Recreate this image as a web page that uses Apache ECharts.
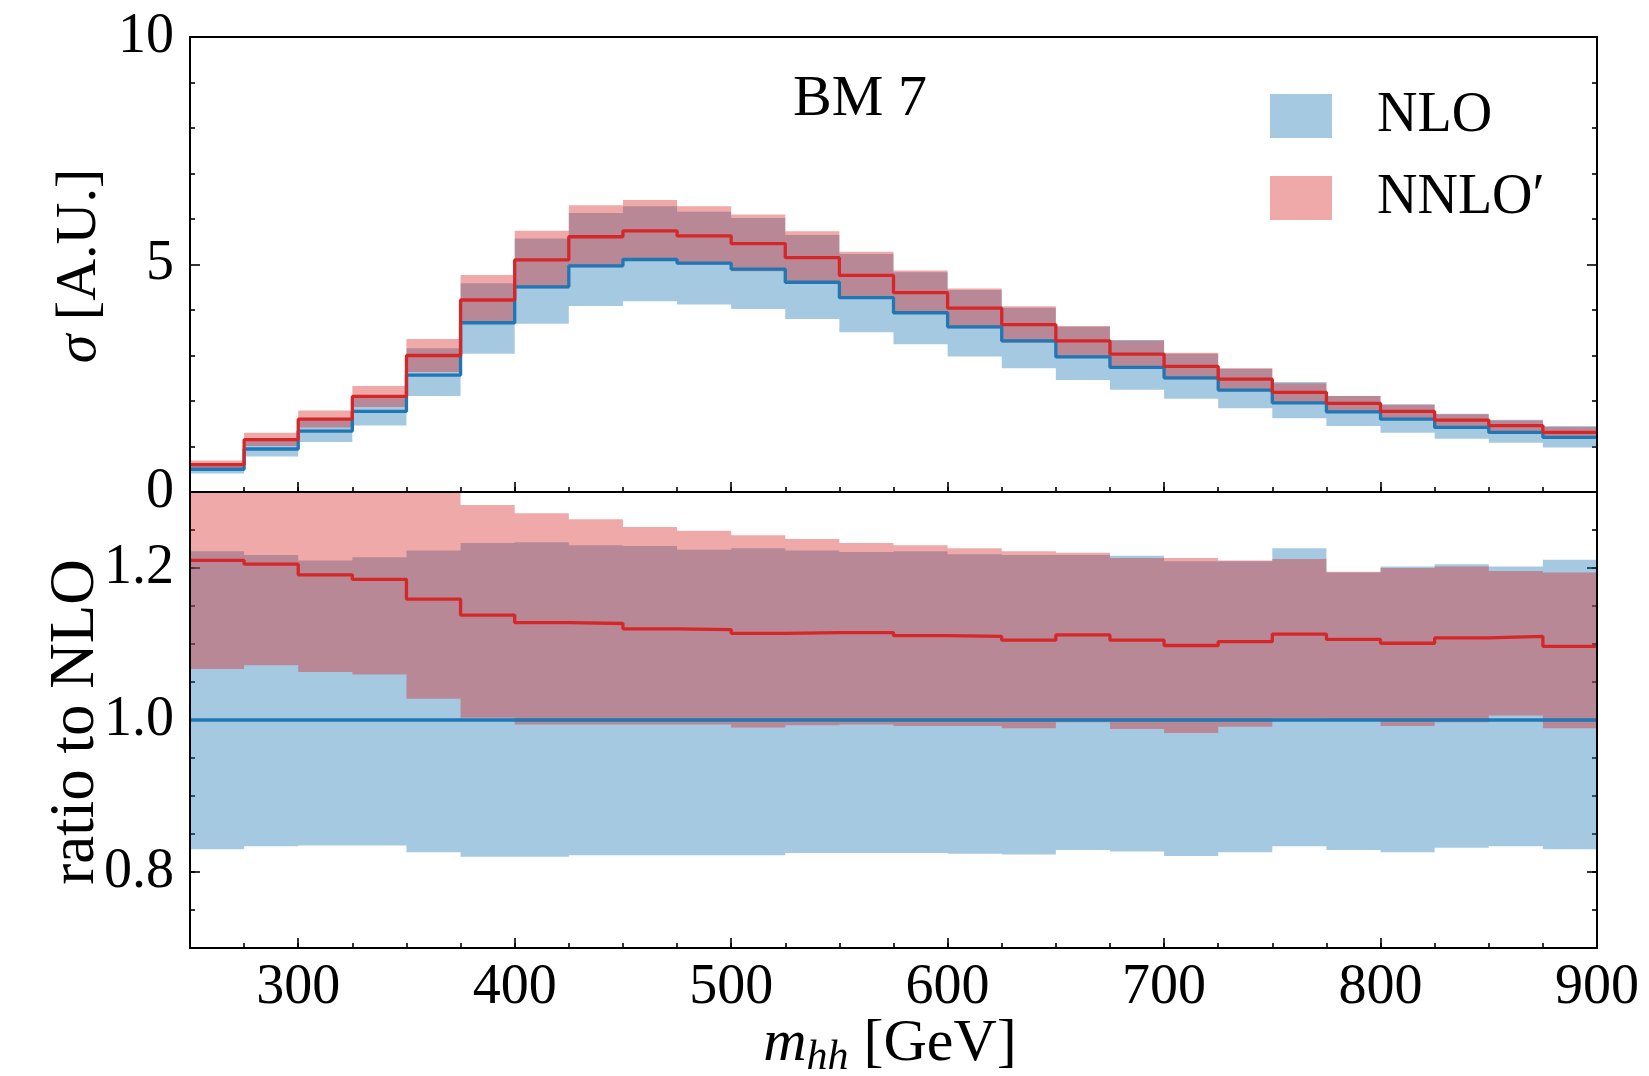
<!DOCTYPE html>
<html>
<head>
<meta charset="utf-8">
<title>BM 7</title>
<script src="https://cdn.jsdelivr.net/npm/echarts@6/dist/echarts.min.js"></script>
<style>
    html, body { margin: 0; padding: 0; background: #fff; }
    #chart { width: 1649px; height: 1076px; }
</style>
</head>
<body>
<div id="chart"></div>
<script>
// bin edges in m_hh [GeV]
var binEdges = [250, 275, 300, 325, 350, 375, 400, 425, 450, 475, 500, 525, 550, 575, 600,
    625, 650, 675, 700, 725, 750, 775, 800, 825, 850, 875, 900];

// upper panel: sigma [A.U.]
var nloCentral = [0.50, 0.945, 1.34, 1.77, 2.57, 3.72, 4.51, 4.97, 5.11, 5.03, 4.90, 4.61, 4.27, 3.94, 3.63, 3.32, 2.97, 2.74, 2.51, 2.24, 1.96, 1.76, 1.60, 1.42, 1.31, 1.20];
var nloLow = [0.405, 0.78, 1.10, 1.46, 2.11, 3.04, 3.70, 4.09, 4.19, 4.12, 4.02, 3.80, 3.51, 3.25, 2.98, 2.72, 2.46, 2.25, 2.05, 1.84, 1.62, 1.45, 1.30, 1.17, 1.08, 0.98];
var nloHigh = [0.61, 1.15, 1.61, 2.13, 3.16, 4.59, 5.57, 6.13, 6.28, 6.16, 6.02, 5.65, 5.23, 4.83, 4.44, 4.05, 3.63, 3.34, 3.04, 2.71, 2.42, 2.11, 1.93, 1.72, 1.59, 1.45];
var nnloCentral = [0.60, 1.15, 1.60, 2.10, 3.00, 4.22, 5.10, 5.61, 5.74, 5.63, 5.46, 5.15, 4.76, 4.38, 4.04, 3.68, 3.32, 3.03, 2.76, 2.48, 2.19, 1.95, 1.77, 1.58, 1.46, 1.31];
var nnloLow = [0.53, 1.01, 1.42, 1.87, 2.64, 3.73, 4.48, 4.94, 5.08, 5.00, 4.85, 4.58, 4.24, 3.91, 3.60, 3.28, 2.96, 2.71, 2.47, 2.22, 1.96, 1.76, 1.59, 1.42, 1.32, 1.19];
var nnloHigh = [0.69, 1.30, 1.79, 2.33, 3.36, 4.77, 5.74, 6.30, 6.42, 6.28, 6.10, 5.73, 5.28, 4.87, 4.47, 4.08, 3.65, 3.33, 3.06, 2.72, 2.39, 2.11, 1.92, 1.71, 1.57, 1.43];

// lower panel: ratio to NLO
var ratioNlo = [1.0, 1.0, 1.0, 1.0, 1.0, 1.0, 1.0, 1.0, 1.0, 1.0, 1.0, 1.0, 1.0, 1.0, 1.0, 1.0, 1.0, 1.0, 1.0, 1.0, 1.0, 1.0, 1.0, 1.0, 1.0, 1.0];
var ratioNloLow = [0.830, 0.834, 0.835, 0.835, 0.826, 0.820, 0.820, 0.822, 0.822, 0.822, 0.822, 0.825, 0.825, 0.825, 0.824, 0.823, 0.829, 0.827, 0.821, 0.826, 0.834, 0.829, 0.826, 0.832, 0.834, 0.830];
var ratioNloHigh = [1.222, 1.217, 1.210, 1.214, 1.223, 1.233, 1.234, 1.230, 1.229, 1.224, 1.226, 1.223, 1.221, 1.222, 1.218, 1.217, 1.217, 1.216, 1.209, 1.209, 1.226, 1.194, 1.202, 1.205, 1.202, 1.211];
var ratioNnlo = [1.210, 1.205, 1.191, 1.185, 1.159, 1.138, 1.128, 1.127, 1.120, 1.119, 1.114, 1.115, 1.115, 1.111, 1.110, 1.105, 1.112, 1.105, 1.098, 1.103, 1.113, 1.106, 1.101, 1.108, 1.110, 1.097];
var ratioNnloLow = [1.067, 1.072, 1.063, 1.060, 1.028, 1.003, 0.994, 0.994, 0.994, 0.994, 0.990, 0.993, 0.994, 0.992, 0.992, 0.989, 0.997, 0.988, 0.983, 0.991, 1.002, 0.999, 0.992, 0.997, 1.006, 0.989];
var ratioNnloHigh = [1.38, 1.38, 1.334, 1.316, 1.309, 1.283, 1.272, 1.264, 1.254, 1.249, 1.243, 1.238, 1.233, 1.230, 1.226, 1.222, 1.220, 1.213, 1.213, 1.210, 1.212, 1.195, 1.200, 1.202, 1.196, 1.194];

// tick labels
var xMajorTicks = [300, 400, 500, 600, 700, 800, 900];
var ratioTicks = [0.8, 1.0, 1.2];

var serif = '"Liberation Serif", "DejaVu Serif", serif';
var BLUE = '#1f77b4';
var RED = '#d62728';
var BLUE_BAND = 'rgba(31,119,180,0.4)';
var RED_BAND = 'rgba(214,39,40,0.4)';
var tickLine = { color: '#000', width: 1.6 };

// histogram points, drawn as steps-post up to the last edge
function steps(vals) {
    var pts = [];
    for (var i = 0; i < vals.length; i++) {
        pts.push([binEdges[i], vals[i]]);
    }
    pts.push([binEdges[vals.length], vals[vals.length - 1]]);
    return pts;
}

// one polygon per band, so neighbouring bins leave no seams
function band(name, lo, hi, fill, xi, yi) {
    var data = lo.map(function (v, i) { return [binEdges[i], binEdges[i + 1], v, hi[i]]; });
    return {
        name: name, type: 'custom', xAxisIndex: xi, yAxisIndex: yi, clip: true, silent: true,
        color: fill, encode: { x: [0, 1], y: [2, 3] }, data: data,
        renderItem: function (params, api) {
            if (params.dataIndexInside !== 0) return null;
            var n = params.dataInsideLength;
            var pts = [];
            var i;
            for (i = 0; i < n; i++) {
                pts.push(api.coord([api.value(0, i), api.value(3, i)]));
                pts.push(api.coord([api.value(1, i), api.value(3, i)]));
            }
            for (i = n - 1; i >= 0; i--) {
                pts.push(api.coord([api.value(1, i), api.value(2, i)]));
                pts.push(api.coord([api.value(0, i), api.value(2, i)]));
            }
            var cs = params.coordSys;
            pts = echarts.graphic.clipPointsByRect(pts, { x: cs.x, y: cs.y, width: cs.width, height: cs.height });
            return { type: 'polygon', shape: { points: pts }, style: { fill: fill } };
        }
    };
}

function line(name, vals, color, xi, yi) {
    return {
        name: name, type: 'line', xAxisIndex: xi, yAxisIndex: yi, step: 'end',
        data: steps(vals), symbol: 'none', color: color,
        lineStyle: { color: color, width: 3.3 }, silent: true
    };
}

function xMajor(grid, labels) {
    return {
        gridIndex: grid, type: 'value', min: 250, max: 900, position: 'bottom',
        axisLine: { show: false }, splitLine: { show: false },
        axisTick: { show: true, inside: true, length: 10, lineStyle: tickLine, customValues: xMajorTicks },
        axisLabel: {
            show: labels, customValues: xMajorTicks, margin: 12,
            fontFamily: serif, fontSize: 56, color: '#000'
        }
    };
}

function xMinor(grid) {
    return {
        gridIndex: grid, type: 'value', min: 250, max: 900, interval: 25, position: 'bottom',
        axisLine: { show: false }, splitLine: { show: false },
        axisTick: { show: true, inside: true, length: 5, lineStyle: tickLine },
        axisLabel: { show: false }
    };
}

function ySigma(pos, labels) {
    return {
        gridIndex: 0, type: 'value', min: 0, max: 10, interval: 5, position: pos,
        axisLine: { show: false }, splitLine: { show: false },
        axisTick: { show: true, inside: true, length: 10, lineStyle: tickLine },
        minorTick: { show: true, splitNumber: 5, length: 5, lineStyle: tickLine },
        minorSplitLine: { show: false },
        axisLabel: {
            show: labels, margin: 16, showMinLabel: true, showMaxLabel: true,
            fontFamily: serif, fontSize: 56, color: '#000'
        }
    };
}

function yRatioMajor(pos, labels) {
    return {
        gridIndex: 1, type: 'value', min: 0.7, max: 1.3, position: pos,
        axisLine: { show: false }, splitLine: { show: false },
        axisTick: { show: true, inside: true, length: 10, lineStyle: tickLine, customValues: ratioTicks },
        axisLabel: {
            show: labels, customValues: ratioTicks, margin: 16,
            formatter: function (v) { return v.toFixed(1); },
            fontFamily: serif, fontSize: 56, color: '#000'
        }
    };
}

function yRatioMinor(pos) {
    return {
        gridIndex: 1, type: 'value', min: 0.7, max: 1.3, interval: 0.05, position: pos,
        axisLine: { show: false }, splitLine: { show: false },
        axisTick: { show: true, inside: true, length: 5, lineStyle: tickLine },
        axisLabel: { show: false }
    };
}

var series = [
    band('NLO', nloLow, nloHigh, BLUE_BAND, 0, 0),
    band('NNLO′', nnloLow, nnloHigh, RED_BAND, 0, 0),
    line('NLO central', nloCentral, BLUE, 0, 0),
    line('NNLO′ central', nnloCentral, RED, 0, 0),
    band('NLO ratio', ratioNloLow, ratioNloHigh, BLUE_BAND, 2, 2),
    band('NNLO′ ratio', ratioNnloLow, ratioNnloHigh, RED_BAND, 2, 2),
    line('NLO ratio central', ratioNlo, BLUE, 2, 2),
    line('NNLO′ ratio central', ratioNnlo, RED, 2, 2)
];

var chart = echarts.init(document.getElementById('chart'), null, { renderer: 'canvas' });
chart.setOption({
    animation: false,
    backgroundColor: '#fff',
    grid: [
        { left: 190, top: 37, width: 1407, height: 455, show: true, z: 10, backgroundColor: 'transparent',
          borderColor: '#000', borderWidth: 2, outerBoundsMode: 'none' },
        { left: 190, top: 492, width: 1407, height: 456, show: true, z: 10, backgroundColor: 'transparent',
          borderColor: '#000', borderWidth: 2, outerBoundsMode: 'none' }
    ],
    xAxis: [xMajor(0, false), xMinor(0), xMajor(1, true), xMinor(1)],
    yAxis: [ySigma('left', true), ySigma('right', false),
        yRatioMajor('left', true), yRatioMinor('left'),
        yRatioMajor('right', false), yRatioMinor('right')],
    legend: {
        data: [
            { name: 'NLO', icon: 'rect', itemStyle: { color: BLUE_BAND, borderWidth: 0 } },
            { name: 'NNLO′', icon: 'rect', itemStyle: { color: RED_BAND, borderWidth: 0 } }
        ],
        orient: 'vertical', left: 1265, top: 81, itemWidth: 62, itemHeight: 44, itemGap: 22,
        selectedMode: false,
        textStyle: { fontFamily: serif, fontSize: 56, lineHeight: 60, color: '#000', padding: [0, 0, 0, 40] }
    },
    graphic: [
        { type: 'text', x: 860, y: 100, z: 100, style: { text: 'BM 7', fontFamily: serif, fontSize: 58, fill: '#000',
            align: 'center', verticalAlign: 'middle' } },
        { type: 'text', x: 80, y: 266, z: 100, rotation: Math.PI / 2,
          style: { text: '{i|σ} [A.U.]', fontFamily: serif, fontSize: 58, fill: '#000', align: 'center', verticalAlign: 'middle',
            rich: { i: { fontFamily: serif, fontSize: 58, fontStyle: 'italic', fill: '#000' } } } },
        { type: 'text', x: 76, y: 722, z: 100, rotation: Math.PI / 2,
          style: { text: 'ratio to NLO', fontFamily: serif, fontSize: 63, fill: '#000', align: 'center', verticalAlign: 'middle' } },
        { type: 'text', x: 890, y: 1044, z: 100,
          style: { text: '{m|m}{s|hh}{t| [GeV]}', fill: '#000', align: 'center', verticalAlign: 'middle',
            rich: {
                m: { fontFamily: serif, fontSize: 60, fontStyle: 'italic', lineHeight: 70, verticalAlign: 'middle', fill: '#000' },
                s: { fontFamily: serif, fontSize: 42, fontStyle: 'italic', lineHeight: 42, verticalAlign: 'bottom', fill: '#000' },
                t: { fontFamily: serif, fontSize: 60, lineHeight: 70, verticalAlign: 'middle', fill: '#000' }
            } } }
    ],
    series: series
});
</script>
</body>
</html>
